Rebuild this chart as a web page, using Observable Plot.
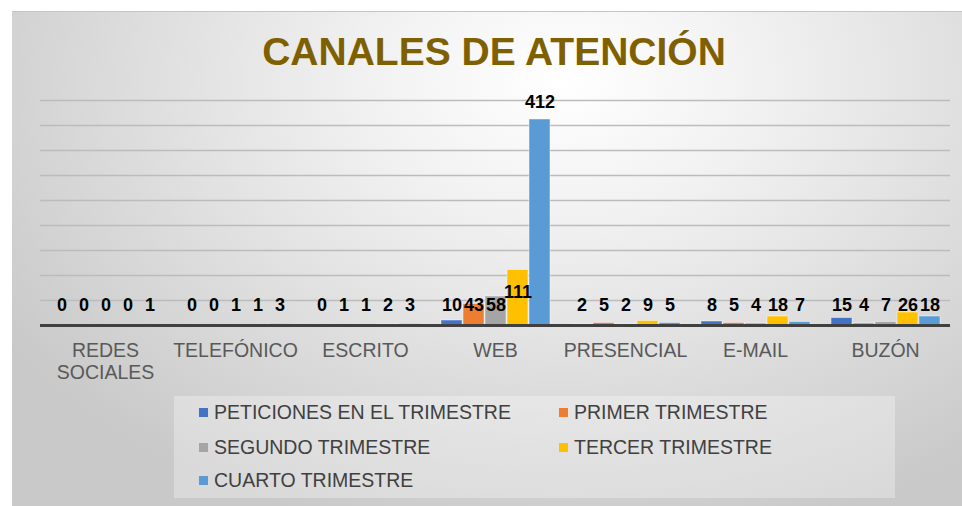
<!DOCTYPE html>
<html>
<head>
<meta charset="utf-8">
<script src="https://cdn.jsdelivr.net/npm/d3@7"></script>
<script src="https://cdn.jsdelivr.net/npm/@observablehq/plot@0.6"></script>
<style>
  html, body { margin: 0; padding: 0; background: #ffffff; }
  #page { position: relative; width: 962px; height: 506px; overflow: hidden; font-family: "Liberation Sans", Arial, sans-serif; }
  #frame { position: absolute; left: 12px; top: 11px; width: 950px; height: 495px;
    border-top: 1px solid #c4c4c4; box-sizing: border-box;
    background: radial-gradient(ellipse 70% 95% at 58% 14%, #ffffff 0%, #f1f1f1 30%, #dddddd 65%, #c9c9c9 100%); }
  #title { position: absolute; top: 32px; left: 494px; transform: translateX(-50%); white-space: nowrap;
    font-size: 39px; line-height: 39px; font-weight: bold; color: #7F6000; }
  #chart { position: absolute; left: 0; top: 0; }
  #legend { position: absolute; left: 174px; top: 396px; width: 721px; height: 102px; background: rgba(255,255,255,0.3); }
  .item { position: absolute; height: 22px; line-height: 22px; display: flex; align-items: center; font-size: 19.5px; color: #404040; white-space: nowrap; }
  .sw { width: 9px; height: 9px; margin-right: 6px; flex: none; }
</style>
</head>
<body>
<div id="page">
  <div id="frame"></div>
  <div id="title">CANALES DE ATENCIÓN</div>
  <div id="chart"></div>
  <div id="legend"></div>
</div>
<script>
const categories = ["REDES SOCIALES", "TELEFÓNICO", "ESCRITO", "WEB", "PRESENCIAL", "E-MAIL", "BUZÓN"];
const series = ["PETICIONES EN EL TRIMESTRE", "PRIMER TRIMESTRE", "SEGUNDO TRIMESTRE", "TERCER TRIMESTRE", "CUARTO TRIMESTRE"];
const peticiones = [0, 0, 0, 10, 2, 8, 15];
const primer = [0, 0, 1, 43, 5, 5, 4];
const segundo = [0, 1, 1, 58, 2, 4, 7];
const tercer = [0, 1, 2, 111, 9, 18, 26];
const cuarto = [1, 3, 3, 412, 5, 7, 18];
const colors = ["#4472C4", "#ED7D31", "#A5A5A5", "#FFC000", "#5B9BD5"];
const yTicks = [50, 100, 150, 200, 250, 300, 350, 400, 450];

const seriesValues = [peticiones, primer, segundo, tercer, cuarto];
const table = [];
categories.forEach((c, i) => {
  series.forEach((s, j) => table.push({cat: c, serie: s, value: seriesValues[j][i]}));
});

const font = "'Liberation Sans', Arial, sans-serif";
const labelOpts = {fx: "cat", x: "serie", text: "value", fontSize: 18, fontWeight: "bold", fill: "#000", fontFamily: font};

const chart = Plot.plot({
  width: 962,
  height: 395,
  marginLeft: 37,
  marginRight: 9,
  marginTop: 100,
  marginBottom: 70,
  style: {background: "transparent", overflow: "visible", fontFamily: font},
  fx: {domain: categories, padding: 0, label: null, axis: null},
  x: {domain: series, paddingInner: 0.05, paddingOuter: 0.375, axis: null},
  y: {domain: [0, 450], axis: null},
  color: {domain: series, range: colors},
  marks: [
    Plot.ruleY(yTicks, {stroke: "#bcbcbc", strokeWidth: 1.5}),
    Plot.barY(table, {fx: "cat", x: "serie", y: "value", fill: "serie", stroke: "#ffffff", strokeOpacity: 0.45, strokeWidth: 1}),
    Plot.ruleY([0], {stroke: "#404040", strokeWidth: 3}),
    Plot.text(table.filter(d => d.value <= 100), {...labelOpts, y: () => 0, dy: -20}),
    Plot.text(table.filter(d => d.value > 100 && d.value <= 200), {...labelOpts, y: () => 0, dy: -33}),
    Plot.text(table.filter(d => d.value > 200), {...labelOpts, y: "value", dy: -17}),
    Plot.axisFx({
      anchor: "bottom", tickSize: 0, tickPadding: 16, label: null,
      fontSize: 19.5, color: "#595959", lineHeight: 1.13, fontFamily: font,
      tickFormat: d => d === "REDES SOCIALES" ? "REDES\nSOCIALES" : d
    })
  ]
});
document.getElementById("chart").appendChild(chart);

const legend = document.getElementById("legend");
const pos = [[25, 5], [385, 5], [25, 40], [385, 40], [25, 73]];
series.forEach((s, i) => {
  const it = document.createElement("div");
  it.className = "item";
  it.style.left = pos[i][0] + "px";
  it.style.top = pos[i][1] + "px";
  const sw = document.createElement("span");
  sw.className = "sw";
  sw.style.background = colors[i];
  it.appendChild(sw);
  it.appendChild(document.createTextNode(s));
  legend.appendChild(it);
});
</script>
</body>
</html>
